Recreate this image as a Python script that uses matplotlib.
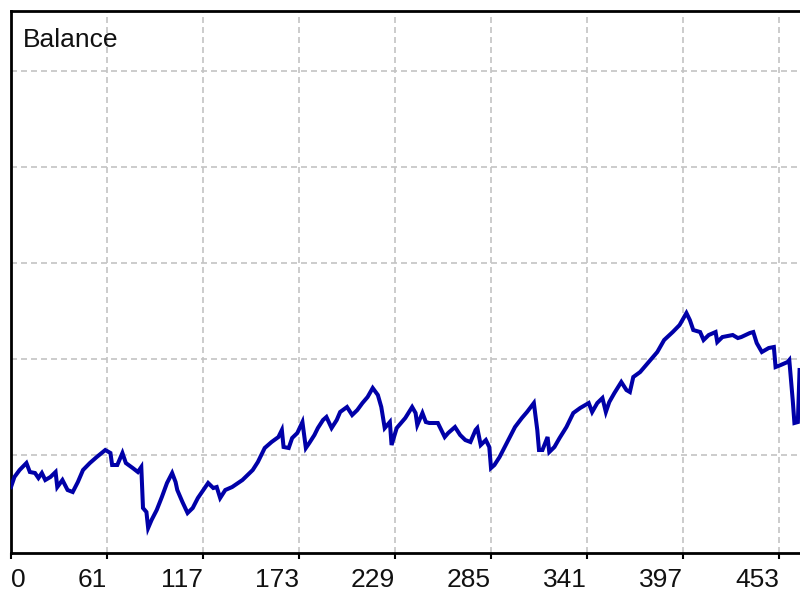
import matplotlib.pyplot as plt

plt.rcParams['savefig.bbox'] = 'standard'

# trade number / balance
trades = [5, 7, 10, 14, 16, 19, 21, 23, 25, 28, 31, 32, 35, 38, 41, 44, 47, 51, 55, 60,
          63, 64, 67, 70, 72, 76, 79, 81, 82, 84, 85, 87, 90, 93, 96, 99, 101, 102, 105, 108,
          111, 114, 118, 120, 123, 125, 127, 130, 134, 140, 146, 149, 153, 157, 161, 163, 164, 167, 169, 172,
          175, 177, 179, 182, 184, 187, 189, 192, 195, 197, 201, 204, 207, 210, 213, 216, 219, 221, 223, 226,
          227, 230, 235, 239, 241, 242, 245, 247, 249, 254, 256, 258, 260, 264, 267, 270, 273, 276, 277, 279,
          282, 284, 285, 287, 290, 293, 296, 299, 303, 306, 310, 312, 313, 315, 318, 319, 322, 325, 329, 333,
          337, 342, 344, 347, 350, 352, 354, 357, 361, 364, 366, 368, 372, 377, 382, 386, 391, 395, 399, 401,
          403, 407, 409, 412, 416, 417, 420, 426, 429, 431, 436, 438, 440, 443, 447, 450, 451, 454, 458, 459,
          461, 462, 464, 465]
balance = [5333, 5542, 5687, 5833, 5646, 5625, 5521, 5625, 5479, 5542, 5646, 5333, 5479, 5271, 5229, 5437, 5687, 5833, 5958, 6104,
           6042, 5792, 5792, 6042, 5833, 5729, 5646, 5750, 4896, 4812, 4479, 4646, 4854, 5125, 5417, 5625, 5437, 5271, 5021, 4792,
           4896, 5104, 5312, 5417, 5312, 5333, 5104, 5271, 5333, 5479, 5687, 5854, 6146, 6271, 6375, 6521, 6167, 6146, 6354, 6458,
           6687, 6146, 6250, 6417, 6562, 6729, 6792, 6562, 6729, 6896, 7000, 6833, 6937, 7083, 7208, 7396, 7250, 7000, 6562, 6687,
           6208, 6562, 6771, 7000, 6875, 6625, 6875, 6687, 6667, 6667, 6521, 6375, 6458, 6583, 6417, 6312, 6271, 6521, 6562, 6208,
           6312, 6167, 5729, 5792, 5958, 6167, 6375, 6583, 6771, 6896, 7083, 6521, 6104, 6104, 6375, 6062, 6167, 6354, 6583, 6875,
           6979, 7083, 6896, 7083, 7187, 6896, 7104, 7292, 7521, 7354, 7312, 7625, 7729, 7937, 8146, 8396, 8562, 8708, 8958, 8812,
           8604, 8562, 8396, 8500, 8562, 8354, 8458, 8500, 8437, 8458, 8542, 8562, 8333, 8146, 8229, 8250, 7833, 7875, 7937, 7979,
           7146, 6667, 6687, 7771]

tick_pos = [5, 61, 117, 173, 229, 285, 341, 397, 453]
tick_labels = ["0", "61", "117", "173", "229", "285", "341", "397", "453"]
grid_levels = [6000, 8000, 10000, 12000, 14000]

fig = plt.figure(figsize=(8, 6), dpi=100)
ax = fig.add_axes([0.01375, 0.0783, 0.98625, 0.9033])

for lvl in grid_levels:
    ax.axhline(lvl, color="#c4c4c4", lw=1.2, dashes=(3.6, 2.4), zorder=1)
for t in tick_pos[1:]:
    ax.axvline(t, color="#c4c4c4", lw=1.2, dashes=(3.6, 2.4), zorder=1)

ax.plot(trades, balance, color="#0000a8", lw=2.9, zorder=3, solid_joinstyle="miter")

ax.set_xlim(5, 465.25)
ax.set_ylim(3958, 15250)
ax.set_xticks(tick_pos)
ax.set_xticklabels(tick_labels, fontsize=19, family="Liberation Sans", color="#111111")
# MT-style labels sit to the left of their tick
for i, lab in enumerate(ax.get_xticklabels()):
    lab.set_horizontalalignment("left" if i == 0 else "right")
ax.set_yticks([])
ax.tick_params(axis="x", direction="out", length=4, width=1.5, pad=7)

for side in ["left", "top", "bottom"]:
    ax.spines[side].set_linewidth(2)
    ax.spines[side].set_color("black")
ax.spines["right"].set_visible(False)

ax.text(0.015, 0.9336, "Balance", transform=ax.transAxes, fontsize=19,
        family="Liberation Sans", color="#111111", va="baseline", ha="left")

fig.savefig("out.png", dpi=100)
